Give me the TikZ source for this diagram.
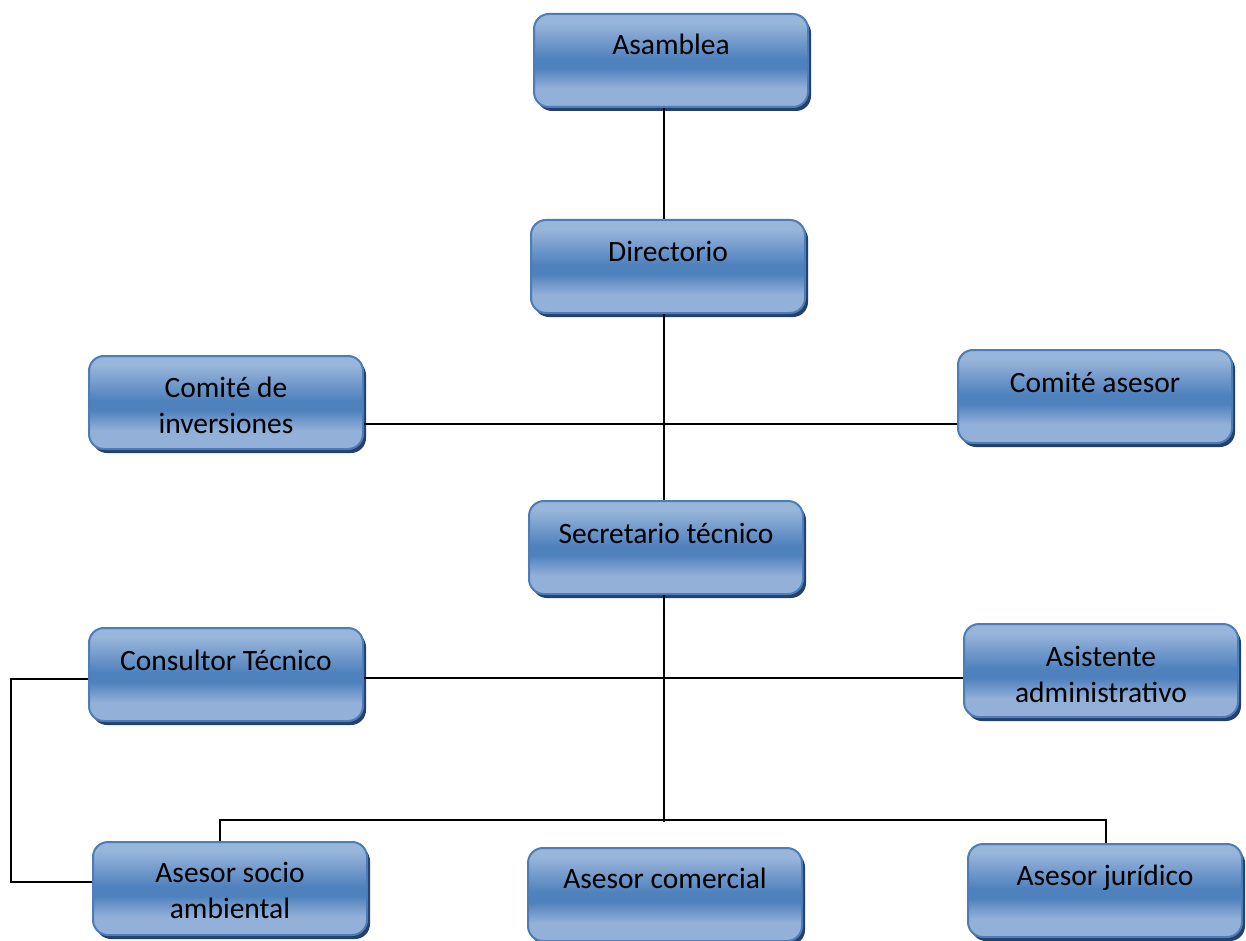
\documentclass[tikz,border=0pt]{standalone}
\usepackage{fontspec}
\setmainfont{Carlito}
\usetikzlibrary{shadows,calc}
\definecolor{bxlight}{HTML}{98B5DA}
\definecolor{bxlightb}{HTML}{92B0D8}
\definecolor{bxdark}{HTML}{4F81BD}
\definecolor{bxedge}{HTML}{4A7DBA}
\definecolor{bxshadow}{HTML}{25406A}
\pgfdeclareverticalshading{boxshade}{100bp}{color(0bp)=(bxlightb); color(25bp)=(bxlightb); color(35bp)=(bxlightb); color(46bp)=(bxdark); color(51bp)=(bxdark); color(70bp)=(bxlight); color(75bp)=(bxlight); color(100bp)=(bxlight)}
\begin{document}
\begin{tikzpicture}[x=1pt,y=-1pt,
  box/.style={draw=bxedge, line width=2pt, rounded corners=15pt, minimum width=274pt, minimum height=93pt, inner sep=0pt, shading=boxshade, drop shadow={shadow xshift=3pt, shadow yshift=-4pt, fill=bxshadow, opacity=1}},
  lbl/.style={font=\fontsize{29.5}{35.5}\selectfont, inner sep=0pt, align=center, anchor=base},
  conn/.style={line width=2pt, draw=black}]
\useasboundingbox[fill=white] (0,0) rectangle (1246,941);

% boxes
\node[box] (asam) at (671,60.5) {};
\node[box] (dir)  at (668,266.5) {};
\node[box] (cinv) at (226,402.5) {};
\node[box] (case) at (1095,396.5) {};
\node[box] (sec)  at (666,547.5) {};
\node[box] (cons) at (226,674.5) {};
\node[box] (asis) at (1101,670.5) {};
\node[box] (soc)  at (230,888.5) {};
\node[box] (com)  at (665,894.5) {};
\node[box] (jur)  at (1105,890.5) {};

% labels (base = baseline of the last line)
\node[lbl] (asamT) at (671,55) {Asamblea};
\node[lbl] (dirT)  at (668,261) {Directorio};
\node[lbl] (cinvT) at (226,433) {Comité de\\inversiones};
\node[lbl] (caseT) at (1095,392) {Comité asesor};
\node[lbl] (secT)  at (666,543) {Secretario técnico};
\node[lbl] (consT) at (226,670) {Consultor Técnico};
\node[lbl] (asisT) at (1101,702) {Asistente\\administrativo};
\node[lbl] (socT)  at (230,918) {Asesor socio\\ambiental};
\node[lbl] (comT)  at (665,888) {Asesor comercial};
\node[lbl] (jurT)  at (1105,885) {Asesor jurídico};

% helper coordinates
\coordinate (spine) at (664,0);
\coordinate (rowA) at (0,424);
\coordinate (rowB) at (0,678);
\coordinate (bus) at (664,820);
\coordinate (busL) at (220,820);
\coordinate (busR) at (1106,820);
\coordinate (sideT) at (11,679);
\coordinate (sideB) at (11,882);

% connectors
\draw[conn] (spine |- asam.south) -- (spine |- dir.north);
\draw[conn] (spine |- dir.south) -- (spine |- sec.north);
\draw[conn] (cinv.east |- rowA) -- (case.west |- rowA);
\draw[conn] (spine |- sec.south) -- ([yshift=-2pt]bus);
\draw[conn] (cons.east |- rowB) -- (asis.west |- rowB);
\draw[conn] (busL |- soc.north) -- (busL) -- (busR) -- (busR |- jur.north);
\draw[conn] (cons.west |- sideT) -- (sideT) -- (sideB) -- (soc.west |- sideB);
\end{tikzpicture}
\end{document}
